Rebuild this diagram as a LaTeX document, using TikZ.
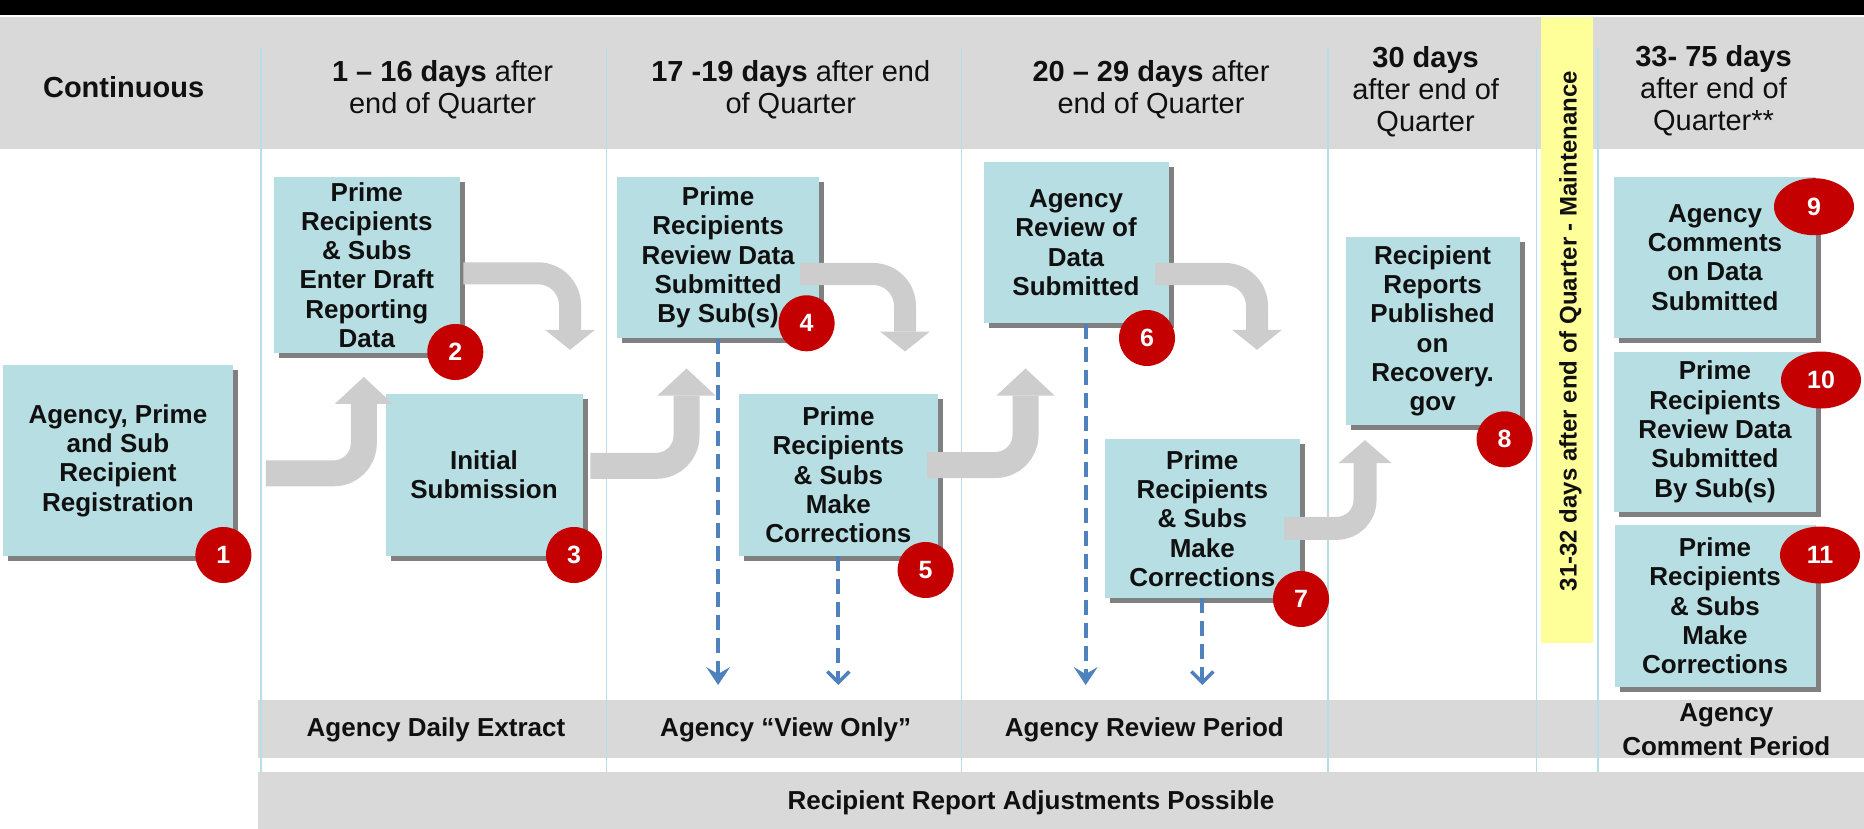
\documentclass[tikz,border=0pt]{standalone}
\usepackage{fontspec}
\setmainfont{Liberation Sans}
\usetikzlibrary{arrows.meta,shadows,shapes.geometric,calc}
\definecolor{hdrgray}{HTML}{D9D9D9}
\definecolor{boxfill}{HTML}{B7DEE3}
\definecolor{arrgray}{HTML}{CDCDCD}
\definecolor{divblue}{HTML}{B7DEE8}
\definecolor{badgered}{HTML}{C40000}
\definecolor{dashblue}{HTML}{4F81BD}
\definecolor{ylw}{HTML}{FFFF99}
\definecolor{txt}{HTML}{101010}
\begin{document}
\begin{tikzpicture}[x=1pt,y=-1pt,
  hdr/.style={font=\fontsize{29}{32}\selectfont, text=txt, align=center, inner sep=0pt},
  rowtxt/.style={font=\fontsize{26}{33.4}\selectfont\bfseries, text=txt, align=center, inner sep=0pt},
  stepbox/.style={fill=boxfill, text=txt, font=\fontsize{26}{29.3}\selectfont\bfseries, align=center, inner sep=0pt,
     drop shadow={shadow xshift=5pt, shadow yshift=-5pt, fill=black!50, opacity=1}},
  badge/.style={circle, fill=badgered, text=white, font=\fontsize{25}{25}\selectfont\bfseries, minimum size=56pt, inner sep=0pt},
  wbadge/.style={ellipse, fill=badgered, text=white, font=\fontsize{25}{25}\selectfont\bfseries, minimum width=80pt, minimum height=57pt, inner sep=0pt},
  uparr/.style={draw=arrgray, line width=26pt, rounded corners=30pt, -{Triangle[length=27pt,width=58pt,line width=0pt]}},
  smallup/.style={draw=arrgray, line width=23pt, rounded corners=28pt, -{Triangle[length=23pt,width=53pt,line width=0pt]}},
  dnarr/.style={draw=arrgray, line width=22pt, rounded corners=32pt, -{Triangle[length=20pt,width=50pt,line width=0pt]}},
  dashline/.style={draw=dashblue, line width=4pt, dash pattern=on 15pt off 8pt},
  dashopen/.style={dashline, -{Straight Barb[length=11pt,width=22pt,line width=3.5pt]}},
  dashfull/.style={dashline, -{Stealth[length=18pt,width=24pt,inset=7pt,line width=0pt]}},
]
\useasboundingbox (0,0) rectangle (1864,829);
% backgrounds
\fill[black] (0,0) rectangle (1864,15);
\fill[hdrgray] (0,16.7) rectangle (1864,149);
\fill[ylw] (1540.5,16.7) rectangle (1593.4,643);
\fill[hdrgray] (257.8,700) rectangle (1864,758);
\fill[hdrgray] (257.8,772) rectangle (1864,829);
\foreach \x in {261,606.5,961.5,1328.3,1536.5,1598.2}
  \draw[divblue, line width=1.8pt] (\x,48) -- (\x,772);

% header texts
\node[hdr] (h0) at (123.6,87) {\textbf{Continuous}};
\node[hdr] (h1) at (442.5,89.8) {\textbf{1 – 16 days} after\\end of Quarter};
\node[hdr] (h2) at (790.8,89.8) {\textbf{17 -19 days} after end\\of Quarter};
\node[hdr] (h3) at (1151,89.8) {\textbf{20 – 29 days} after\\end of Quarter};
\node[hdr] (h4) at (1425.6,92) {\textbf{30 days}\\after end of\\Quarter};
\node[hdr] (h5) at (1713.5,90.4) {\textbf{33- 75 days}\\after end of\\Quarter**};
\node[rotate=90, font=\fontsize{24}{24}\selectfont\bfseries, text=txt, inner sep=0pt] (ytxt) at (1570.5,331)
  {31-32 days after end of Quarter - Maintenance};

% bottom rows
\node[rowtxt] (r1) at (436,730) {Agency Daily Extract};
\node[rowtxt] (r2) at (785.7,730) {Agency “View Only”};
\node[rowtxt] (r3) at (1144.4,730) {Agency Review Period};
\node[rowtxt] (r4) at (1726.3,729.8) {Agency\\Comment Period};
\node[rowtxt] (r5) at (1031,802.5) {Recipient Report Adjustments Possible};

% boxes
\node[stepbox, minimum width=229.3pt, minimum height=191pt] (b1) at (117.9,460.5) {Agency, Prime\\and Sub\\Recipient\\Registration};
\node[stepbox, minimum width=185.5pt, minimum height=176.6pt] (b2) at (366.8,265) {Prime\\Recipients\\\& Subs\\Enter Draft\\Reporting\\Data};
\node[stepbox, minimum width=197pt, minimum height=161.4pt] (b3) at (484,475) {Initial\\Submission};
\node[stepbox, minimum width=202pt, minimum height=161.6pt] (b4) at (718.1,257.5) {Prime\\Recipients\\Review Data\\Submitted\\By Sub(s)};
\node[stepbox, minimum width=199pt, minimum height=162pt] (b5) at (838.4,475) {Prime\\Recipients\\\& Subs\\Make\\Corrections};
\node[stepbox, minimum width=185pt, minimum height=161pt] (b6) at (1076,242.8) {Agency\\Review of\\Data\\Submitted};
\node[stepbox, minimum width=195pt, minimum height=159pt] (b7) at (1202.3,518.5) {Prime\\Recipients\\\& Subs\\Make\\Corrections};
\node[stepbox, minimum width=174pt, minimum height=188pt] (b8) at (1432.6,330.9) {Recipient\\Reports\\Published\\on\\Recovery.\\gov};
\node[stepbox, minimum width=202pt, minimum height=161.6pt] (b9) at (1715,257.5) {Agency\\Comments\\on Data\\Submitted};
\node[stepbox, minimum width=202pt, minimum height=160pt] (b10) at (1715,431.7) {Prime\\Recipients\\Review Data\\Submitted\\By Sub(s)};
\node[stepbox, minimum width=201pt, minimum height=161.7pt] (b11) at (1715,605.8) {Prime\\Recipients\\\& Subs\\Make\\Corrections};

% gray bent arrows
\draw[uparr] ([xshift=33.2pt,yshift=-12.8pt]b1.east) -| ([xshift=-3pt,yshift=-23.4pt]b2.south);
\draw[dnarr] ([xshift=3.5pt,yshift=-8.3pt]b2.east) -| ([xshift=86pt,yshift=44.3pt]b3.north);
\draw[uparr] ([xshift=7.6pt,yshift=9.2pt]b3.east) -| ([xshift=-31.6pt,yshift=-30pt]b4.south);
\draw[dnarr] ([xshift=-19.2pt,yshift=-16.5pt]b4.east) -| ([xshift=66.6pt,yshift=42.3pt]b5.north);
\draw[uparr] ([xshift=-11pt,yshift=10pt]b5.east) -| ([xshift=-50.5pt,yshift=-45pt]b6.south);
\draw[dnarr] ([xshift=-13.6pt,yshift=-31.2pt]b6.east) -| ([xshift=54.7pt,yshift=89pt]b7.north);
\draw[smallup] ([xshift=-15.9pt,yshift=-9.8pt]b7.east) -| ([xshift=-67.6pt,yshift=-15pt]b8.south);

% dashed blue arrows
\coordinate (dashend) at (0,685);
\coordinate (d6s) at ([xshift=9.7pt]b6.south);
\draw[dashfull] (b4.south) -- (b4.south |- dashend);
\draw[dashopen] (b5.south) -- (b5.south |- dashend);
\draw[dashfull] (d6s) -- (d6s |- dashend);
\draw[dashopen] (b7.south) -- (b7.south |- dashend);

% badges
\node[badge] (n1) at (223.4,555) {1};
\node[badge] (n2) at (455.3,352) {2};
\node[badge] (n3) at (574,555) {3};
\node[badge] (n4) at (806.6,323.3) {4};
\node[badge] (n5) at (925.6,570) {5};
\node[badge] (n6) at (1147,338) {6};
\node[badge] (n7) at (1301,599) {7};
\node[badge] (n8) at (1504.6,439.3) {8};
\node[wbadge] (n9) at (1814,206.7) {9};
\node[wbadge] (n10) at (1821,380) {10};
\node[wbadge] (n11) at (1820,555) {11};
\end{tikzpicture}
\end{document}
